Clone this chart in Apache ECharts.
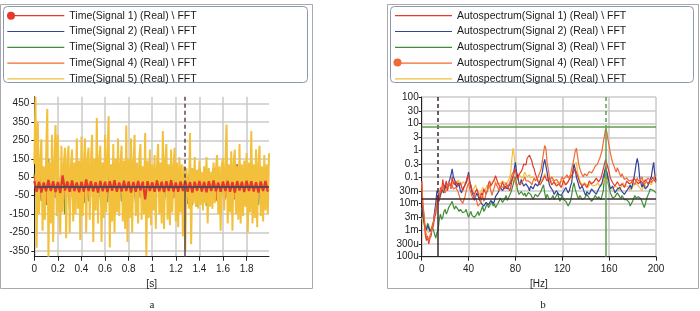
<!DOCTYPE html>
<html>
<head>
<meta charset="utf-8">
<script src="https://cdn.jsdelivr.net/npm/echarts@6/dist/echarts.min.js"></script>
<style>
  html, body { margin: 0; padding: 0; background: #fff; }
  #chart { width: 700px; height: 311px; }
</style>
</head>
<body>
<div id="chart"></div>
<script>
// ── Time signals (panel a) ─────────────────────────────
const TIME_STEP        = 0.01;   // s, signal 5
const TIME_STEP_COARSE = 0.02;   // s, signals 1-4

const timeSig5 = [
  120, 486, -332, 350, -150, 140, 255, -240, 110, -180,
  160, 420, -380, 130, -200, 280, -300, 140, 333, -160,
  280, -120, -260, 220, -140, 120, 210, -280, 150, 220,
  -250, 110, 200, -190, 130, -150, 260, -120, 140, -290,
  270, -160, 120, 260, -250, 150, 210, -180, 130, 280,
  -300, 150, -130, 370, -200, 140, 220, -300, 130, -170,
  280, -140, 160, 380, -330, 120, -190, 230, -250, 150,
  -140, 260, -160, 120, 220, -190, 140, -230, 330, -300,
  150, -170, 260, -250, 120, 280, -160, 130, -200, 150,
  230, -180, 110, -150, 290, -375, 140, -170, 200, -210,
  120, -130, 170, -230, 110, 230, -150, 130, -200, 300,
  -230, 140, 230, -180, 120, -210, 200, -140, 110, 210,
  -190, 130, -220, 160, -140, 120, -270, 110, -350, 100,
  90, -120, 290, -313, 100, -90, 160, -110, 90, -120,
  140, -100, 80, -130, 110, -90, 160, -200, 100, -110,
  80, -120, 130, -90, 100, 170, -150, 110, -240, 120,
  150, -130, 110, 335, -200, 120, -140, 190, -240, 130,
  200, -150, 110, -180, 230, -200, 120, -160, 140, -110,
  180, -250, 130, -140, 300, -200, 120, -170, 200, -220,
  130, 220, -160, 110, -190, 170, -130, 120, -150, 180
];

const timeSig1 = [
  30, -28, 25, -32, 22, -26, 35, -24, 28, -30,
  24, -35, 60, -22, 27, -29, 33, -25, 21, -31,
  26, -28, 38, -24, 29, -27, 23, -33, 30, -26,
  25, -30, 28, -23, 34, -28, 22, -27, 31, -25,
  27, -32, 24, -29, 30, -22, 26, -70, 29, -24,
  23, -28, 32, -26, 25, -30, 28, -24, 34, -27,
  22, -29, 27, -25, 31, -28, 24, -32, 26, -23,
  30, -27, 25, -31, 28, -24, 33, -26, 22, -29,
  27, -25, 30, -28, 24, -33, 29, -22, 26, -30,
  31, -24, 28, -27, 23, -32, 27, -25, 30, -28
];

const timeSig2 = [
  25, -20, 30, -28, 18, -35, 22, -26, 32, -19,
  27, -31, 20, -24, 35, -22, 28, -30, 19, -27,
  33, -21, 26, -29, 23, -34, 21, -25, 30, -18,
  24, -32, 27, -23, 36, -26, 20, -28, 31, -24,
  22, -30, 29, -20, 25, -33, 18, -27, 34, -22,
  26, -29, 21, -31, 28, -19, 32, -25, 23, -36,
  27, -22, 30, -26, 19, -28, 35, -24, 22, -30,
  25, -33, 28, -21, 31, -27, 20, -29, 26, -23,
  33, -25, 24, -30, 29, -20, 27, -34, 22, -26,
  30, -24, 21, -28, 34, -22, 25, -31, 28, -27
];

const timeSig3 = [
  70, -60, 90, -80, 60, -100, 150, -70, 80, -60,
  90, -110, 70, -150, 60, -80, 100, -70, 85, -60,
  75, -90, 60, -80, 140, -70, 65, -100, 80, -60,
  70, -85, 95, -60, 75, -130, 65, -80, 90, -70,
  60, -75, 100, -90, 70, -60, 85, -80, 65, -120,
  75, -60, 90, -70, 80, -100, 60, -75, 95, -65,
  110, -90, 100, -80, 70, -95, 120, -100, 90, -110,
  100, -80, 95, -105, 85, -90, 100, -70, 80, -95,
  70, -60, 90, -80, 65, -70, 120, -90, 80, -60,
  75, -85, 140, -70, 90, -100, 65, -80, 85, -70
];

const timeSig4 = [
  60, -55, 140, -70, 45, -90, 65, -50, 120, -60,
  50, -75, 95, -45, 60, -130, 70, -55, 150, -65,
  55, -80, 110, -50, 65, -95, 45, -60, 130, -70,
  60, -50, 85, -120, 55, -65, 100, -45, 70, -85,
  50, -60, 140, -75, 65, -55, 90, -110, 45, -70,
  60, -50, 75, -65, 120, -55, 50, -90, 70, -60,
  55, -45, 65, -70, 50, -60, 80, -55, 45, -65,
  60, -75, 55, -50, 70, -60, 100, -80, 65, -55,
  150, -70, 60, -95, 55, -65, 120, -50, 70, -85,
  60, -55, 110, -70, 50, -60, 90, -75, 65, -120
];

const timeTicksX = [0, 0.2, 0.4, 0.6, 0.8, 1, 1.2, 1.4, 1.6, 1.8];
const timeTicksY = [-350, -250, -150, -50, 50, 150, 250, 350, 450];
const TIME_MIN = -380, TIME_MAX = 486, TIME_END = 1.99;
const timeCursor = { t: 1.277, v: 0 };

// ── Autospectra (panel b), one value per Hz, 0..200 ────
const FREQ_STEP = 1;

const specSig1 = [
  0.07, 0.008, 0.003, 0.0007, 0.0004, 0.0006, 0.0003, 0.0005, 0.0006, 0.0012,
  0.0015, 0.003, 0.004, 0.015, 0.02, 0.012, 0.04, 0.025, 0.08, 0.035,
  0.05, 0.07, 0.03, 0.05, 0.06, 0.035, 0.1, 0.06, 0.05, 0.07,
  0.08, 0.045, 0.04, 0.06, 0.06, 0.03, 0.03, 0.05, 0.07, 0.1,
  0.12, 0.06, 0.05, 0.03, 0.03, 0.022, 0.02, 0.035, 0.03, 0.018,
  0.015, 0.025, 0.02, 0.035, 0.04, 0.022, 0.03, 0.055, 0.07, 0.045,
  0.04, 0.065, 0.08, 0.11, 0.12, 0.06, 0.05, 0.035, 0.04, 0.065,
  0.06, 0.035, 0.03, 0.05, 0.05, 0.03, 0.04, 0.07, 0.1, 0.15,
  0.2, 0.1, 0.08, 0.12, 0.12, 0.16, 0.2, 0.3, 0.35, 0.28,
  0.5, 0.55, 0.65, 0.5, 0.4, 0.25, 0.2, 0.13, 0.1, 0.07,
  0.07, 0.05, 0.05, 0.07, 0.08, 0.11, 0.12, 0.07, 0.06, 0.09,
  0.09, 0.05, 0.05, 0.065, 0.07, 0.045, 0.04, 0.055, 0.06, 0.04,
  0.05, 0.075, 0.08, 0.05, 0.05, 0.065, 0.07, 0.1, 0.1, 0.13,
  0.15, 0.2, 0.2, 0.11, 0.08, 0.06, 0.06, 0.045, 0.04, 0.055,
  0.06, 0.04, 0.05, 0.07, 0.08, 0.055, 0.05, 0.065, 0.07, 0.09,
  0.09, 0.065, 0.06, 0.09, 0.1, 0.2, 0.3, 0.45, 0.4, 0.22,
  0.15, 0.09, 0.08, 0.06, 0.06, 0.045, 0.05, 0.065, 0.07, 0.045,
  0.04, 0.055, 0.06, 0.04, 0.05, 0.07, 0.08, 0.055, 0.05, 0.06,
  0.06, 0.09, 0.1, 0.07, 0.07, 0.055, 0.05, 0.07, 0.08, 0.055,
  0.06, 0.08, 0.09, 0.055, 0.05, 0.065, 0.07, 0.095, 0.1, 0.07,
  0.06
];

const specSig2 = [
  0.02, 0.004, 0.002, 0.0012, 0.001, 0.0015, 0.0012, 0.0009, 0.0008, 0.0012,
  0.002, 0.005, 0.01, 0.03, 0.025, 0.015, 0.02, 0.035, 0.03, 0.025,
  0.05, 0.035, 0.04, 0.06, 0.08, 0.12, 0.2, 0.1, 0.08, 0.05,
  0.04, 0.06, 0.05, 0.03, 0.025, 0.035, 0.04, 0.05, 0.06, 0.09,
  0.15, 0.07, 0.04, 0.025, 0.02, 0.013, 0.015, 0.025, 0.02, 0.015,
  0.012, 0.01, 0.01, 0.008, 0.008, 0.011, 0.012, 0.009, 0.01, 0.013,
  0.015, 0.01, 0.012, 0.018, 0.02, 0.025, 0.03, 0.04, 0.04, 0.03,
  0.03, 0.045, 0.05, 0.035, 0.04, 0.05, 0.06, 0.08, 0.1, 0.2,
  0.35, 0.15, 0.1, 0.06, 0.05, 0.08, 0.07, 0.045, 0.04, 0.055,
  0.06, 0.04, 0.03, 0.045, 0.05, 0.035, 0.04, 0.055, 0.06, 0.045,
  0.05, 0.07, 0.08, 0.15, 0.3, 0.45, 0.5, 0.15, 0.08, 0.05,
  0.04, 0.035, 0.03, 0.022, 0.02, 0.03, 0.03, 0.022, 0.025, 0.02,
  0.02, 0.028, 0.03, 0.04, 0.04, 0.025, 0.03, 0.045, 0.06, 0.15,
  0.3, 0.2, 0.1, 0.07, 0.05, 0.035, 0.03, 0.045, 0.04, 0.025,
  0.02, 0.028, 0.03, 0.022, 0.025, 0.035, 0.04, 0.028, 0.03, 0.022,
  0.025, 0.035, 0.04, 0.05, 0.06, 0.1, 0.15, 0.22, 0.2, 0.1,
  0.06, 0.035, 0.03, 0.045, 0.04, 0.025, 0.025, 0.035, 0.03, 0.04,
  0.04, 0.028, 0.03, 0.022, 0.02, 0.03, 0.03, 0.04, 0.05, 0.035,
  0.04, 0.08, 0.15, 0.3, 0.5, 0.3, 0.1, 0.06, 0.04, 0.055,
  0.05, 0.035, 0.03, 0.045, 0.06, 0.08, 0.1, 0.2, 0.35, 0.12,
  0.07
];

const specSig3 = [
  0.007, 0.003, 0.002, 0.0012, 0.001, 0.0018, 0.0015, 0.0009, 0.0008, 0.0014,
  0.0012, 0.0007, 0.0005, 0.0008, 0.001, 0.0025, 0.004, 0.0025, 0.003, 0.005,
  0.006, 0.004, 0.005, 0.007, 0.008, 0.01, 0.012, 0.008, 0.006, 0.008,
  0.009, 0.006, 0.005, 0.006, 0.007, 0.0045, 0.004, 0.005, 0.006, 0.004,
  0.003, 0.004, 0.005, 0.0035, 0.004, 0.003, 0.003, 0.004, 0.005, 0.0035,
  0.004, 0.006, 0.008, 0.005, 0.006, 0.008, 0.01, 0.007, 0.007, 0.01,
  0.012, 0.008, 0.01, 0.007, 0.008, 0.01, 0.012, 0.016, 0.015, 0.011,
  0.01, 0.015, 0.02, 0.013, 0.015, 0.02, 0.025, 0.035, 0.05, 0.08,
  0.1, 0.05, 0.03, 0.022, 0.02, 0.028, 0.03, 0.02, 0.025, 0.018,
  0.02, 0.026, 0.03, 0.022, 0.02, 0.014, 0.015, 0.022, 0.025, 0.018,
  0.02, 0.025, 0.03, 0.04, 0.05, 0.025, 0.015, 0.022, 0.02, 0.014,
  0.012, 0.016, 0.02, 0.014, 0.015, 0.02, 0.025, 0.016, 0.012, 0.016,
  0.02, 0.014, 0.015, 0.012, 0.01, 0.008, 0.007, 0.012, 0.02, 0.04,
  0.06, 0.035, 0.025, 0.018, 0.015, 0.02, 0.02, 0.014, 0.012, 0.016,
  0.018, 0.022, 0.02, 0.016, 0.015, 0.012, 0.012, 0.016, 0.02, 0.017,
  0.015, 0.018, 0.018, 0.014, 0.012, 0.03, 0.1, 0.25, 0.15, 0.06,
  0.04, 0.025, 0.02, 0.016, 0.015, 0.018, 0.02, 0.025, 0.025, 0.018,
  0.015, 0.02, 0.02, 0.014, 0.012, 0.014, 0.015, 0.011, 0.008, 0.01,
  0.012, 0.016, 0.02, 0.016, 0.015, 0.018, 0.02, 0.015, 0.012, 0.009,
  0.007, 0.01, 0.015, 0.02, 0.025, 0.035, 0.04, 0.032, 0.03, 0.028,
  0.025
];

const specSig4 = [
  0.06, 0.01, 0.004, 0.0012, 0.0006, 0.0005, 0.0004, 0.0006, 0.0008, 0.0014,
  0.002, 0.004, 0.006, 0.012, 0.015, 0.022, 0.03, 0.04, 0.05, 0.03,
  0.025, 0.035, 0.04, 0.06, 0.07, 0.04, 0.05, 0.035, 0.03, 0.04,
  0.045, 0.028, 0.02, 0.014, 0.012, 0.01, 0.01, 0.018, 0.03, 0.045,
  0.06, 0.035, 0.025, 0.018, 0.015, 0.022, 0.02, 0.012, 0.008, 0.009,
  0.01, 0.015, 0.02, 0.012, 0.015, 0.025, 0.03, 0.04, 0.05, 0.03,
  0.02, 0.03, 0.04, 0.06, 0.07, 0.04, 0.03, 0.045, 0.05, 0.04,
  0.035, 0.05, 0.06, 0.04, 0.04, 0.06, 0.08, 0.12, 0.15, 0.09,
  0.06, 0.045, 0.04, 0.06, 0.07, 0.055, 0.05, 0.08, 0.1, 0.07,
  0.06, 0.07, 0.08, 0.06, 0.05, 0.07, 0.09, 0.07, 0.06, 0.09,
  0.12, 0.15, 0.2, 0.4, 0.8, 1.5, 1.2, 0.35, 0.2, 0.1,
  0.08, 0.1, 0.1, 0.07, 0.06, 0.08, 0.09, 0.06, 0.05, 0.08,
  0.1, 0.08, 0.07, 0.1, 0.12, 0.09, 0.08, 0.12, 0.2, 0.3,
  0.5, 0.9, 1.2, 0.6, 0.3, 0.2, 0.15, 0.12, 0.1, 0.13,
  0.15, 0.11, 0.12, 0.16, 0.18, 0.14, 0.15, 0.2, 0.25, 0.22,
  0.3, 0.4, 0.5, 0.7, 1.0, 2.0, 3.5, 6.5, 5.0, 2.5,
  1.5, 0.8, 0.5, 0.35, 0.3, 0.2, 0.15, 0.22, 0.2, 0.13,
  0.1, 0.13, 0.12, 0.08, 0.07, 0.09, 0.1, 0.07, 0.06, 0.075,
  0.08, 0.06, 0.05, 0.07, 0.09, 0.07, 0.06, 0.08, 0.1, 0.07,
  0.05, 0.06, 0.07, 0.09, 0.1, 0.075, 0.06, 0.07, 0.08, 0.1,
  0.12
];

const specSig5 = [
  0.003, 0.002, 0.0015, 0.0012, 0.001, 0.0009, 0.0008, 0.001, 0.0012, 0.0016,
  0.002, 0.003, 0.005, 0.008, 0.012, 0.015, 0.02, 0.025, 0.03, 0.04,
  0.05, 0.035, 0.04, 0.055, 0.06, 0.045, 0.05, 0.065, 0.07, 0.05,
  0.06, 0.075, 0.08, 0.06, 0.05, 0.065, 0.07, 0.055, 0.06, 0.075,
  0.08, 0.055, 0.04, 0.03, 0.03, 0.04, 0.05, 0.035, 0.03, 0.025,
  0.02, 0.03, 0.04, 0.035, 0.03, 0.04, 0.05, 0.035, 0.04, 0.05,
  0.06, 0.07, 0.08, 0.06, 0.05, 0.06, 0.07, 0.055, 0.06, 0.07,
  0.08, 0.06, 0.05, 0.06, 0.07, 0.09, 0.15, 0.5, 1.2, 0.6,
  0.2, 0.12, 0.1, 0.13, 0.12, 0.09, 0.08, 0.11, 0.15, 0.12,
  0.1, 0.11, 0.12, 0.09, 0.08, 0.1, 0.1, 0.08, 0.07, 0.08,
  0.08, 0.065, 0.06, 0.08, 0.1, 0.13, 0.15, 0.1, 0.08, 0.07,
  0.06, 0.07, 0.08, 0.06, 0.05, 0.06, 0.07, 0.06, 0.06, 0.07,
  0.08, 0.06, 0.05, 0.055, 0.06, 0.07, 0.08, 0.09, 0.1, 0.18,
  0.3, 0.35, 0.35, 0.15, 0.1, 0.07, 0.06, 0.05, 0.05, 0.06,
  0.07, 0.05, 0.04, 0.05, 0.06, 0.05, 0.05, 0.045, 0.04, 0.05,
  0.06, 0.05, 0.05, 0.045, 0.04, 0.06, 0.08, 0.1, 0.1, 0.07,
  0.05, 0.035, 0.03, 0.035, 0.04, 0.045, 0.05, 0.04, 0.03, 0.035,
  0.04, 0.05, 0.06, 0.045, 0.04, 0.045, 0.05, 0.04, 0.03, 0.035,
  0.04, 0.05, 0.06, 0.055, 0.05, 0.045, 0.04, 0.035, 0.03, 0.04,
  0.05, 0.045, 0.04, 0.05, 0.06, 0.055, 0.05, 0.065, 0.08, 0.09,
  0.1
];

const specTickValues = [100, 30, 10, 3, 1, 0.3, 0.1, 0.03, 0.01, 0.003, 0.001, 0.0003, 0.0001];
const specTickLabels = ['100', '30', '10', '3', '1', '0.3', '0.1', '30m', '10m', '3m', '1m', '300u', '100u'];
const SPEC_MIN = 0.0001, SPEC_MAX = 100;
const specCursorA = { f: 13.7,  v: 0.0155 };
const specCursorB = { f: 157.3, v: 7.8 };

// ── Names / colours ────────────────────────────────────
const timeNames = [1, 2, 3, 4, 5].map(n => 'Time(Signal ' + n + ') (Real) \\ FFT');
const specNames = [1, 2, 3, 4, 5].map(n => 'Autospectrum(Signal ' + n + ') (Real) \\ FFT');
const COLORS = ['#e5392d', '#34449a', '#3f8d35', '#f06a35', '#f3c03c'];

const FONT = "'Liberation Sans', Arial, sans-serif";
const GRID_LINE = { color: '#ccc8c8', width: 1.5 };
const AXIS_LINE = { color: '#222', width: 1 };

// legend icon: thin line centred in a 57x12 box (corner specks fix the bounds)
const LEGEND_ICON = 'path://M0,0H0.01V0.01H0Z M0,5.4H57V6.6H0Z M56.99,11.99H57V12H56.99Z';

// ── Helpers ────────────────────────────────────────────
const timePoints = (arr, step) => arr.map((v, i) => [+(i * step).toFixed(3), v]);
const specPoints = arr => arr.map((v, i) => [i * FREQ_STEP, Math.log10(v)]);

function lineSeries(name, color, data, axis, width, extra) {
  return Object.assign({
    name, type: 'line', data,
    xAxisIndex: axis, yAxisIndex: axis,
    symbol: 'none', showSymbol: false,
    lineStyle: { color, width },
    itemStyle: { color },
    emphasis: { disabled: true },
    silent: true, animation: false,
  }, extra || {});
}

function seg(x1, y1, x2, y2, color, dashed, width) {
  return [
    { coord: [x1, y1], lineStyle: { color, width: width || 1.5, type: dashed ? [4, 3] : 'solid' } },
    { coord: [x2, y2] },
  ];
}

const lg10 = Math.log10;

// ── Series ─────────────────────────────────────────────
const cursorTime = '#5e4655';
const cursorA = '#3b2a36';
const cursorB = '#5c9e4c';

const series = [
  lineSeries(timeNames[1], COLORS[1], timePoints(timeSig2, TIME_STEP_COARSE), 0, 1.5),
  lineSeries(timeNames[2], COLORS[2], timePoints(timeSig3, TIME_STEP_COARSE), 0, 1.6),
  lineSeries(timeNames[3], COLORS[3], timePoints(timeSig4, TIME_STEP_COARSE), 0, 1.6),
  lineSeries(timeNames[4], COLORS[4], timePoints(timeSig5, TIME_STEP), 0, 2),
  lineSeries(timeNames[0], COLORS[0], timePoints(timeSig1, TIME_STEP_COARSE), 0, 2.2, {
    markLine: {
      silent: true, symbol: ['none', 'none'], label: { show: false }, animation: false,
      data: [
        seg(0, timeCursor.v, TIME_END, timeCursor.v, cursorTime, false, 2),
        seg(timeCursor.t, TIME_MAX, timeCursor.t, timeCursor.v, cursorTime, true),
        seg(timeCursor.t, timeCursor.v, timeCursor.t, TIME_MIN, cursorTime, false),
      ],
    },
  }),

  lineSeries(specNames[2], COLORS[2], specPoints(specSig3), 1, 1.2),
  lineSeries(specNames[4], COLORS[4], specPoints(specSig5), 1, 1.2),
  lineSeries(specNames[1], COLORS[1], specPoints(specSig2), 1, 1.2),
  lineSeries(specNames[0], COLORS[0], specPoints(specSig1), 1, 1.2),
  lineSeries(specNames[3], COLORS[3], specPoints(specSig4), 1, 1.2, {
    markLine: {
      silent: true, symbol: ['none', 'none'], label: { show: false }, animation: false,
      data: [
        seg(0, lg10(specCursorA.v), 200, lg10(specCursorA.v), cursorA, false),
        seg(specCursorA.f, lg10(SPEC_MAX), specCursorA.f, lg10(specCursorA.v), cursorA, true),
        seg(specCursorA.f, lg10(specCursorA.v), specCursorA.f, lg10(SPEC_MIN), cursorA, false),
        seg(0, lg10(specCursorB.v), 200, lg10(specCursorB.v), cursorB, false),
        seg(specCursorB.f, lg10(SPEC_MAX), specCursorB.f, lg10(specCursorB.v), cursorB, true),
        seg(specCursorB.f, lg10(specCursorB.v), specCursorB.f, lg10(SPEC_MIN), cursorB, false),
      ],
    },
  }),
];

// ── Axes ───────────────────────────────────────────────
const labelStyle = { fontFamily: FONT, fontSize: 10, color: '#222' };

const xAxes = [
  {
    type: 'value', gridIndex: 0, min: 0, max: TIME_END,
    name: '[s]', nameLocation: 'middle', nameGap: 18,
    nameTextStyle: labelStyle,
    axisLine: { show: true, onZero: false, lineStyle: AXIS_LINE },
    axisTick: { show: true, length: 4, customValues: timeTicksX, lineStyle: AXIS_LINE },
    axisLabel: Object.assign({ margin: 8, customValues: timeTicksX }, labelStyle),
    splitLine: { show: true, lineStyle: GRID_LINE },
  },
  {
    type: 'value', gridIndex: 1, min: 0, max: 200, interval: 40,
    name: '[Hz]', nameLocation: 'middle', nameGap: 18,
    nameTextStyle: labelStyle,
    axisLine: { show: true, onZero: false, lineStyle: AXIS_LINE },
    axisTick: { show: true, length: 4, lineStyle: AXIS_LINE },
    axisLabel: Object.assign({ margin: 8 }, labelStyle),
    splitLine: { show: true, lineStyle: GRID_LINE },
  },
];

const specLogTicks = specTickValues.map(v => Math.log10(v));

const yAxes = [
  {
    type: 'value', gridIndex: 0, min: TIME_MIN, max: TIME_MAX,
    axisLine: { show: true, onZero: false, lineStyle: AXIS_LINE },
    axisTick: { show: true, length: 3, customValues: timeTicksY, lineStyle: AXIS_LINE },
    axisLabel: Object.assign({ margin: 5, customValues: timeTicksY }, labelStyle),
    splitLine: { show: true, lineStyle: GRID_LINE },
  },
  {
    type: 'value', gridIndex: 1, min: lg10(SPEC_MIN), max: lg10(SPEC_MAX),
    axisLine: { show: true, onZero: false, lineStyle: AXIS_LINE },
    axisTick: { show: true, length: 3, customValues: specLogTicks, lineStyle: AXIS_LINE },
    axisLabel: Object.assign({
      margin: 3, customValues: specLogTicks,
      formatter: val => {
        const idx = specLogTicks.findIndex(t => Math.abs(t - val) < 1e-6);
        return idx >= 0 ? specTickLabels[idx] : '';
      },
    }, labelStyle),
    splitLine: { show: true, lineStyle: GRID_LINE },
  },
];

// ── Legends ────────────────────────────────────────────
function legendAt(left, names) {
  return {
    orient: 'vertical', left, top: 9.7, padding: 0,
    itemWidth: 57, itemHeight: 12, itemGap: 3.8,
    icon: LEGEND_ICON,
    selectedMode: false,
    data: names,
    textStyle: { fontFamily: FONT, fontSize: 10.5, color: '#1a1a1a', lineHeight: 12 },
  };
}

// ── Frames, legend boxes, captions ─────────────────────
const graphic = [
  { type: 'rect', silent: true, shape: { x: 0.5, y: 4.5, width: 312, height: 284 },
    style: { fill: 'none', stroke: '#a9a9a9', lineWidth: 1 } },
  { type: 'rect', silent: true, shape: { x: 387.5, y: 4.5, width: 311, height: 284 },
    style: { fill: 'none', stroke: '#a9a9a9', lineWidth: 1 } },
  { type: 'rect', silent: true, shape: { x: 3.5, y: 6.5, width: 304, height: 76, r: 4 },
    style: { fill: 'none', stroke: '#8b99b2', lineWidth: 1 } },
  { type: 'rect', silent: true, shape: { x: 390.5, y: 6.5, width: 303, height: 76, r: 4 },
    style: { fill: 'none', stroke: '#8b99b2', lineWidth: 1 } },
  { type: 'circle', silent: true, z: 200, shape: { cx: 11, cy: 15.7, r: 4 },
    style: { fill: COLORS[0] } },
  { type: 'circle', silent: true, z: 200, shape: { cx: 397.5, cy: 62.5, r: 4 },
    style: { fill: COLORS[3] } },
  { type: 'text', silent: true, x: 152, y: 305,
    style: { text: 'a', fontFamily: "'Liberation Serif', serif", fontSize: 11, fill: '#222',
             align: 'center', verticalAlign: 'middle' } },
  { type: 'text', silent: true, x: 543, y: 305,
    style: { text: 'b', fontFamily: "'Liberation Serif', serif", fontSize: 11, fill: '#222',
             align: 'center', verticalAlign: 'middle' } },
];

// ── Chart ──────────────────────────────────────────────
const myChart = echarts.init(document.getElementById('chart'), null, { renderer: 'canvas' });

myChart.setOption({
  backgroundColor: '#ffffff',
  animation: false,
  textStyle: { fontFamily: FONT },
  grid: [
    { left: 34.3, top: 96.7, width: 234.7, height: 160, containLabel: false, outerBoundsMode: 'none' },
    { left: 421.7, top: 97, width: 234.3, height: 159.7, containLabel: false, outerBoundsMode: 'none' },
  ],
  legend: [legendAt(7.3, timeNames), legendAt(395, specNames)],
  xAxis: xAxes,
  yAxis: yAxes,
  series,
  graphic,
});
</script>
</body>
</html>
